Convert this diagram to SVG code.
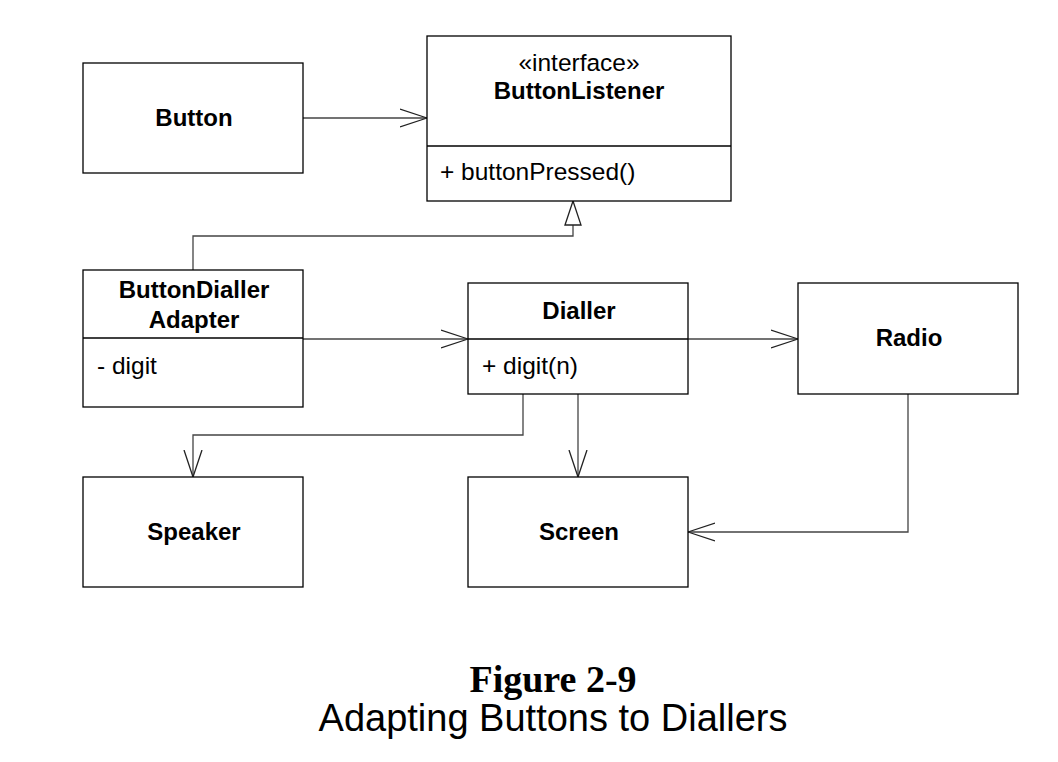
<svg xmlns="http://www.w3.org/2000/svg" width="1058" height="762" viewBox="0 0 1058 762">
<defs>
<style>
.box{fill:#fff;stroke:#000;stroke-width:1.3}
.div{stroke:#000;stroke-width:1.3}
.b{font-family:"Liberation Sans",Arial,sans-serif;font-weight:bold;font-size:24px;text-anchor:middle;fill:#000}
.n{font-family:"Liberation Sans",Arial,sans-serif;font-size:24.5px;fill:#000}
.c{fill:none;stroke:#444;stroke-width:1.3}
</style>
<marker id="open" viewBox="0 0 28 20" refX="27" refY="10" markerWidth="28" markerHeight="20" markerUnits="userSpaceOnUse" orient="auto">
<path d="M0,1 L27,10 L0,19" fill="none" stroke="#222" stroke-width="1.3"/>
</marker>
<marker id="tri" viewBox="0 0 26 20" refX="25" refY="10" markerWidth="26" markerHeight="20" markerUnits="userSpaceOnUse" orient="auto">
<path d="M1,2 L25,10 L1,18 Z" fill="#fff" stroke="#222" stroke-width="1.3"/>
</marker>
</defs>
<rect width="1058" height="762" fill="#fff"/>
<g id="connectors">
<path class="c" d="M303,118 H427" marker-end="url(#open)"/>
<path class="c" d="M193,270 V236 H573 V201" marker-end="url(#tri)"/>
<path class="c" d="M303,339 H468" marker-end="url(#open)"/>
<path class="c" d="M688,339 H798" marker-end="url(#open)"/>
<path class="c" d="M523,394 V435 H193 V477" marker-end="url(#open)"/>
<path class="c" d="M578,394 V477" marker-end="url(#open)"/>
<path class="c" d="M908,394 V532 H688" marker-end="url(#open)"/>
</g>
<g id="button">
<rect class="box" x="83" y="63" width="220" height="110"/>
<text class="b" x="194" y="126">Button</text>
</g>
<g id="buttonlistener">
<rect class="box" x="427" y="36" width="304" height="165"/>
<line class="div" x1="427" y1="146" x2="731" y2="146"/>
<text class="n" x="579" y="71" text-anchor="middle">«interface»</text>
<text class="b" x="579" y="99">ButtonListener</text>
<text class="n" x="440" y="180">+ buttonPressed()</text>
</g>
<g id="adapter">
<rect class="box" x="83" y="270" width="220" height="137"/>
<line class="div" x1="83" y1="338" x2="303" y2="338"/>
<text class="b" x="194" y="298">ButtonDialler</text>
<text class="b" x="194" y="328">Adapter</text>
<text class="n" x="97" y="374">- digit</text>
</g>
<g id="dialler">
<rect class="box" x="468" y="283" width="220" height="111"/>
<line class="div" x1="468" y1="339" x2="688" y2="339"/>
<text class="b" x="579" y="319">Dialler</text>
<text class="n" x="482" y="374">+ digit(n)</text>
</g>
<g id="radio">
<rect class="box" x="798" y="283" width="220" height="111"/>
<text class="b" x="909" y="346">Radio</text>
</g>
<g id="speaker">
<rect class="box" x="83" y="477" width="220" height="110"/>
<text class="b" x="194" y="540">Speaker</text>
</g>
<g id="screen">
<rect class="box" x="468" y="477" width="220" height="110"/>
<text class="b" x="579" y="540">Screen</text>
</g>
<g id="caption">
<text x="553" y="692" font-family="'Liberation Serif','Times New Roman',serif" font-weight="bold" font-size="38" text-anchor="middle">Figure 2-9</text>
<text x="553" y="731" font-family="'Liberation Sans',Arial,sans-serif" font-size="38" text-anchor="middle">Adapting Buttons to Diallers</text>
</g>
</svg>
